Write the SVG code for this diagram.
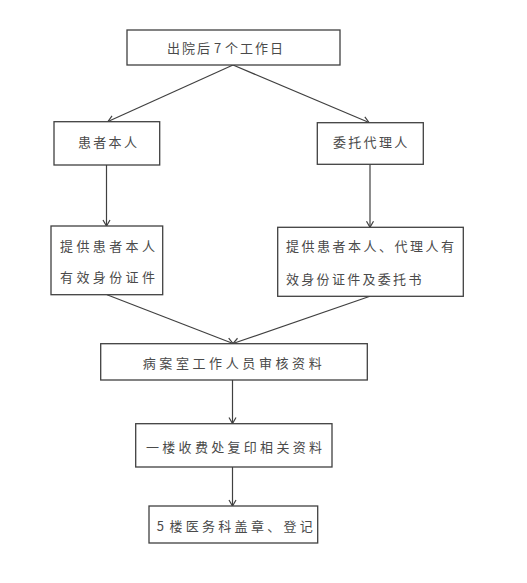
<svg xmlns="http://www.w3.org/2000/svg" width="527" height="583" viewBox="0 0 527 583">
<defs>
<marker id="arr" markerUnits="userSpaceOnUse" markerWidth="10" markerHeight="10" viewBox="0 0 10 10" refX="7" refY="5" orient="auto">
<path d="M1,1.5 L7,5 L1,8.5" fill="none" stroke="#404040" stroke-width="1.2"/>
</marker>
<style>
.box{fill:#fff;stroke:#404040;stroke-width:1.3}
.t{font-family:"Noto Sans CJK SC","Noto Sans CJK JP",sans-serif;font-size:13px;fill:#4a4a4a}
.c{fill:none;stroke:#404040;stroke-width:1.2;marker-end:url(#arr)}
</style>
</defs>
<rect width="527" height="583" fill="#fff"/>
<g id="connectors">
<line class="c" x1="233" y1="65" x2="108" y2="121.5"/>
<line class="c" x1="233" y1="65" x2="369" y2="122.5"/>
<line class="c" x1="106.5" y1="165" x2="106.5" y2="226"/>
<line class="c" x1="370" y1="164.5" x2="370" y2="227.3"/>
<line class="c" x1="107" y1="294.7" x2="233" y2="343.5"/>
<line class="c" x1="370" y1="296.3" x2="233" y2="343.5"/>
<line class="c" x1="232.5" y1="380" x2="232.5" y2="423.5"/>
<line class="c" x1="232.5" y1="467" x2="232.5" y2="506"/>
</g>
<g id="n1">
<rect class="box" x="127" y="30" width="213" height="35"/>
<text class="t" x="167" y="53" style="letter-spacing:2px;word-spacing:-3px">出院后 7 个工作日</text>
</g>
<g id="n2">
<rect class="box" x="54" y="121.7" width="105.7" height="43.3"/>
<text class="t" x="78" y="147" style="letter-spacing:2.3px">患者本人</text>
</g>
<g id="n3">
<rect class="box" x="317.3" y="122.7" width="106" height="41.6"/>
<text class="t" x="333" y="147" style="letter-spacing:2.3px">委托代理人</text>
</g>
<g id="n4">
<rect class="box" x="51" y="226" width="111.7" height="68.7"/>
<text class="t" x="60" y="251" style="letter-spacing:3.4px">提供患者本人</text>
<text class="t" x="60" y="282" style="letter-spacing:3.4px">有效身份证件</text>
</g>
<g id="n5">
<rect class="box" x="277.7" y="227.3" width="185.6" height="69"/>
<text class="t" x="286" y="251" style="letter-spacing:2.5px">提供患者本人、代理人有</text>
<text class="t" x="286" y="284" style="letter-spacing:2.3px">效身份证件及委托书</text>
</g>
<g id="n6">
<rect class="box" x="100.7" y="343.7" width="266.6" height="36.3"/>
<text class="t" x="142.7" y="368" style="letter-spacing:3.6px">病案室工作人员审核资料</text>
</g>
<g id="n7">
<rect class="box" x="135.7" y="423.7" width="196.3" height="43.3"/>
<text class="t" x="146" y="452" style="letter-spacing:3.3px">一楼收费处复印相关资料</text>
</g>
<g id="n8">
<rect class="box" x="149" y="506" width="168.7" height="37"/>
<text class="t" x="156.7" y="531" style="letter-spacing:3.3px;word-spacing:-4px">5 楼医务科盖章、登记</text>
</g>
</svg>
